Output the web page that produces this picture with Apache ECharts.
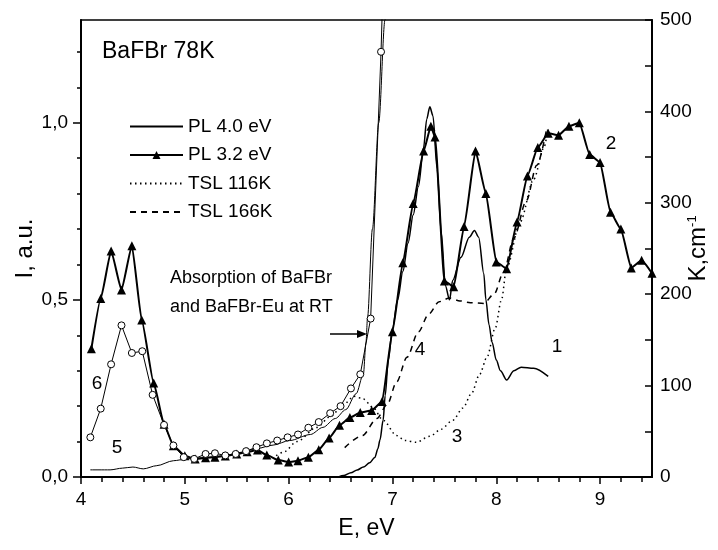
<!DOCTYPE html>
<html><head><meta charset="utf-8">
<script src="https://cdn.jsdelivr.net/npm/echarts@6/dist/echarts.min.js"></script>
<style>html,body{margin:0;padding:0;background:#fff}#c{width:718px;height:550px}</style>
</head><body><div id="c"></div>
<script>
// ---- tick values ----
const energyTicks = [4, 5, 6, 7, 8, 9];
const energyMinorTicks = [4.2,4.4,4.6,4.8,5.2,5.4,5.6,5.8,6.2,6.4,6.6,6.8,7.2,7.4,7.6,7.8,8.2,8.4,8.6,8.8,9.2,9.4];
const intensityTicks = [0, 0.5, 1.0];
const intensityMinorTicks = [0.1,0.2,0.3,0.4,0.6,0.7,0.8,0.9,1.1,1.2];
const absorptionTicks = [0, 100, 200, 300, 400, 500];

// ---- series data: [E (eV), value] ----
// 1: PL 4.0 eV (I, a.u.)
const pl40 = [[6.48,0.0],[6.53,0.004],[6.60,0.012],[6.66,0.02],[6.72,0.028],[6.78,0.04],[6.83,0.055],[6.86,0.08],[6.88,0.105],[6.91,0.16],[6.93,0.23],[6.96,0.33],[7.00,0.42],[7.05,0.50],[7.10,0.58],[7.15,0.66],[7.20,0.74],[7.25,0.82],[7.30,0.93],[7.33,1.01],[7.36,1.045],[7.39,1.02],[7.43,0.87],[7.47,0.69],[7.51,0.54],[7.55,0.50],[7.58,0.555],[7.66,0.62],[7.74,0.677],[7.79,0.696],[7.83,0.677],[7.88,0.574],[7.90,0.50],[7.93,0.43],[7.96,0.38],[8.00,0.33],[8.04,0.30],[8.10,0.274],[8.17,0.30],[8.24,0.31],[8.36,0.307],[8.50,0.284]];
// 2: PL 3.2 eV (I, a.u.)
const pl32 = [[4.10,0.362],[4.19,0.504],[4.29,0.638],[4.39,0.528],[4.49,0.653],[4.585,0.443],[4.70,0.265],[4.80,0.149],[4.89,0.088],[5.00,0.060],[5.10,0.051],[5.20,0.054],[5.29,0.056],[5.39,0.059],[5.50,0.065],[5.60,0.071],[5.70,0.076],[5.79,0.062],[5.90,0.048],[6.00,0.042],[6.09,0.046],[6.19,0.056],[6.29,0.077],[6.39,0.11],[6.49,0.146],[6.59,0.168],[6.69,0.182],[6.80,0.188],[6.90,0.213],[7.00,0.41],[7.10,0.605],[7.20,0.772],[7.30,0.92],[7.37,0.99],[7.41,0.96],[7.50,0.553],[7.59,0.537],[7.69,0.707],[7.80,0.92],[7.90,0.80],[8.00,0.607],[8.10,0.588],[8.20,0.72],[8.30,0.85],[8.40,0.93],[8.50,0.97],[8.60,0.965],[8.70,0.99],[8.80,1.0],[8.90,0.91],[9.00,0.888],[9.10,0.747],[9.20,0.70],[9.30,0.59],[9.40,0.612],[9.50,0.575]];
// 3: TSL 116K (I, a.u.)
const tsl116 = [[5.88,0.06],[5.95,0.07],[6.08,0.10],[6.27,0.14],[6.40,0.17],[6.53,0.205],[6.63,0.228],[6.72,0.22],[6.81,0.197],[6.91,0.16],[7.04,0.117],[7.12,0.103],[7.23,0.098],[7.36,0.115],[7.47,0.135],[7.58,0.16],[7.68,0.195],[7.76,0.235],[7.84,0.29],[7.91,0.338],[7.99,0.42],[8.05,0.50],[8.10,0.59],[8.23,0.72],[8.36,0.84],[8.46,0.93],[8.50,0.99]];
// 4: TSL 166K (I, a.u.)
const tsl166 = [[6.54,0.083],[6.71,0.117],[6.85,0.165],[6.95,0.205],[7.04,0.268],[7.14,0.338],[7.25,0.41],[7.35,0.46],[7.45,0.495],[7.55,0.505],[7.65,0.497],[7.75,0.492],[7.88,0.49],[7.98,0.517],[8.07,0.578],[8.17,0.675],[8.29,0.78],[8.39,0.88],[8.49,0.99]];
// 5: absorption BaFBr at RT (K, cm^-1)
const absBaFBr = [[4.09,7.8],[4.28,7.8],[4.40,9.7],[4.50,10.9],[4.60,8.9],[4.73,12.4],[4.89,17.8],[5.02,19.8],[5.20,21.3],[5.37,23.3],[5.55,27.1],[5.69,31.0],[5.85,34.9],[6.01,39.9],[6.21,46.5],[6.33,54.3],[6.45,64.0],[6.55,73.7],[6.65,91.1],[6.72,112.4],[6.745,147.3],[6.76,174.5],[6.807,271.4],[6.868,387.7],[6.928,500],[6.97,580]];
// 6: absorption BaFBr-Eu at RT (K, cm^-1)
const absBaFBrEu = [[4.09,43.4],[4.19,74.8],[4.29,123.3],[4.39,165.9],[4.49,135.7],[4.59,137.6],[4.69,89.9],[4.80,57.0],[4.89,34.5],[4.99,21.7],[5.09,19.8],[5.20,25.2],[5.29,26.0],[5.39,23.6],[5.49,25.2],[5.59,28.3],[5.69,32.6],[5.79,36.8],[5.89,39.9],[5.99,43.4],[6.09,46.5],[6.19,53.9],[6.29,60.1],[6.40,69.8],[6.50,77.5],[6.60,96.9],[6.69,112.4],[6.79,173.3],[6.89,465.2],[6.92,580]];

const FONT = '"Liberation Sans", Arial, sans-serif';
const chart = echarts.init(document.getElementById('c'), null, {renderer: 'canvas'});
const comma = v => (Math.round(v * 10) / 10).toFixed(1).replace('.', ',');

const lineBase = {type: 'line', xAxisIndex: 0, animation: false, clip: true, emphasis: {disabled: true}};
const noSym = {color: 'rgba(0,0,0,0)', borderColor: 'rgba(0,0,0,0)', borderWidth: 0, opacity: 0};

chart.setOption({
  backgroundColor: '#fff',
  animation: false,
  grid: {left: 81, right: 66, top: 20, bottom: 73, show: true, borderColor: '#000', borderWidth: 1.5,
         backgroundColor: 'transparent', containLabel: false, outerBoundsMode: 'none'},
  legend: {
    data: [{name: 'PL 4.0 eV', itemStyle: noSym}, 'PL 3.2 eV', {name: 'TSL 116K', itemStyle: noSym}, {name: 'TSL 166K', itemStyle: noSym}],
    orient: 'vertical', left: 129, top: 117, padding: 0, itemWidth: 53, itemHeight: 10, itemGap: 9.5,
    textStyle: {fontSize: 19, fontFamily: FONT, color: '#000'},
    selectedMode: false
  },
  xAxis: [
    {type: 'value', position: 'bottom', min: 4, max: 9.5,
     name: 'E, eV', nameLocation: 'middle', nameGap: 40, nameMoveOverlap: false,
     nameTextStyle: {fontSize: 23, fontFamily: FONT, color: '#000'},
     axisLine: {show: true, onZero: false, lineStyle: {color: '#000', width: 2}},
     axisTick: {show: true, customValues: energyTicks, length: 7, lineStyle: {color: '#000', width: 1.5}},
     axisLabel: {customValues: energyTicks, fontSize: 19, fontFamily: FONT, color: '#000', margin: 13},
     splitLine: {show: false}},
    {type: 'value', position: 'bottom', min: 4, max: 9.5,
     axisLine: {show: false},
     axisTick: {show: true, customValues: energyMinorTicks, length: 5, lineStyle: {color: '#000', width: 1.5}},
     axisLabel: {show: false}, splitLine: {show: false}}
  ],
  yAxis: [
    {type: 'value', position: 'left', min: 0, max: 1.29,
     name: 'I, a.u.', nameLocation: 'middle', nameGap: 44, nameMoveOverlap: false,
     nameTextStyle: {fontSize: 24, fontFamily: FONT, color: '#000'},
     axisLine: {show: true, onZero: false, lineStyle: {color: '#000', width: 2}},
     axisTick: {show: true, customValues: intensityTicks, length: 8, lineStyle: {color: '#000', width: 1.5}},
     axisLabel: {customValues: intensityTicks, formatter: comma, fontSize: 19, fontFamily: FONT, color: '#000', margin: 13},
     splitLine: {show: false}},
    {type: 'value', position: 'left', min: 0, max: 1.29,
     axisLine: {show: false},
     axisTick: {show: true, customValues: intensityMinorTicks, length: 4, lineStyle: {color: '#000', width: 1.5}},
     axisLabel: {show: false}, splitLine: {show: false}},
    {type: 'value', position: 'right', min: 0, max: 500, interval: 50,
     name: 'K,cm{sup|-1}', nameLocation: 'middle', nameGap: 34, nameRotate: 90, nameMoveOverlap: false,
     nameTextStyle: {fontSize: 24, fontFamily: FONT, color: '#000',
       rich: {sup: {fontSize: 13, fontFamily: FONT, color: '#000', verticalAlign: 'top', padding: [0, 0, 10, 0]}}},
     axisLine: {show: true, onZero: false, lineStyle: {color: '#000', width: 2}},
     axisTick: {show: true, inside: true, length: 7, lineStyle: {color: '#000', width: 1.5}},
     axisLabel: {customValues: absorptionTicks, fontSize: 19, fontFamily: FONT, color: '#000', margin: 8},
     splitLine: {show: false}}
  ],
  series: [
    Object.assign({}, lineBase, {name: 'PL 4.0 eV', yAxisIndex: 0, data: pl40, symbol: 'none', smooth: 0.3, smoothMonotone: 'x',
      itemStyle: {color: '#000'}, lineStyle: {color: '#000', width: 1.5}}),
    Object.assign({}, lineBase, {name: 'PL 3.2 eV', yAxisIndex: 0, data: pl32, symbol: 'triangle', symbolSize: 9, showSymbol: true, smooth: 0.15, smoothMonotone: 'x',
      itemStyle: {color: '#000'}, lineStyle: {color: '#000', width: 2}}),
    Object.assign({}, lineBase, {name: 'TSL 116K', yAxisIndex: 0, data: tsl116, symbol: 'none', smooth: 0.3, smoothMonotone: 'x',
      itemStyle: {color: '#000'}, lineStyle: {color: '#000', width: 1.5, type: [1.5, 3.5]}}),
    Object.assign({}, lineBase, {name: 'TSL 166K', yAxisIndex: 0, data: tsl166, symbol: 'none', smooth: 0.3, smoothMonotone: 'x',
      itemStyle: {color: '#000'}, lineStyle: {color: '#000', width: 1.5, type: [6, 5]}}),
    Object.assign({}, lineBase, {name: 'Absorption BaFBr', yAxisIndex: 2, data: absBaFBr, symbol: 'none', smooth: 0.3, smoothMonotone: 'x',
      itemStyle: {color: '#000'}, lineStyle: {color: '#000', width: 1}}),
    Object.assign({}, lineBase, {name: 'Absorption BaFBr-Eu', yAxisIndex: 2,
      data: absBaFBrEu.map((p, i) => i === absBaFBrEu.length - 1 ? {value: p, symbol: 'none'} : p),
      symbol: 'circle', symbolSize: 7, showSymbol: true,
      itemStyle: {color: '#fff', borderColor: '#000', borderWidth: 1}, lineStyle: {color: '#000', width: 1}})
  ],
  graphic: [
    {type: 'text', x: 102, y: 52, style: {text: 'BaFBr 78K', fontSize: 23, fontFamily: FONT, fill: '#000', verticalAlign: 'middle'}},
    {type: 'text', x: 170, y: 278, style: {text: 'Absorption of BaFBr', fontSize: 18, fontFamily: FONT, fill: '#000', verticalAlign: 'middle'}},
    {type: 'text', x: 170, y: 307, style: {text: 'and BaFBr-Eu at RT', fontSize: 18, fontFamily: FONT, fill: '#000', verticalAlign: 'middle'}},
    {type: 'line', shape: {x1: 330, y1: 334, x2: 360, y2: 334}, style: {stroke: '#000', lineWidth: 1.5}},
    {type: 'polygon', shape: {points: [[357, 330], [367, 334], [357, 338]]}, style: {fill: '#000'}},
    {type: 'text', x: 557, y: 347, style: {text: '1', fontSize: 19, fontFamily: FONT, fill: '#000', align: 'center', verticalAlign: 'middle'}},
    {type: 'text', x: 611, y: 144, style: {text: '2', fontSize: 19, fontFamily: FONT, fill: '#000', align: 'center', verticalAlign: 'middle'}},
    {type: 'text', x: 457, y: 437, style: {text: '3', fontSize: 19, fontFamily: FONT, fill: '#000', align: 'center', verticalAlign: 'middle'}},
    {type: 'text', x: 420, y: 350, style: {text: '4', fontSize: 19, fontFamily: FONT, fill: '#000', align: 'center', verticalAlign: 'middle'}},
    {type: 'text', x: 117, y: 448, style: {text: '5', fontSize: 19, fontFamily: FONT, fill: '#000', align: 'center', verticalAlign: 'middle'}},
    {type: 'text', x: 97, y: 384, style: {text: '6', fontSize: 19, fontFamily: FONT, fill: '#000', align: 'center', verticalAlign: 'middle'}}
  ]
});
</script>
</body></html>
